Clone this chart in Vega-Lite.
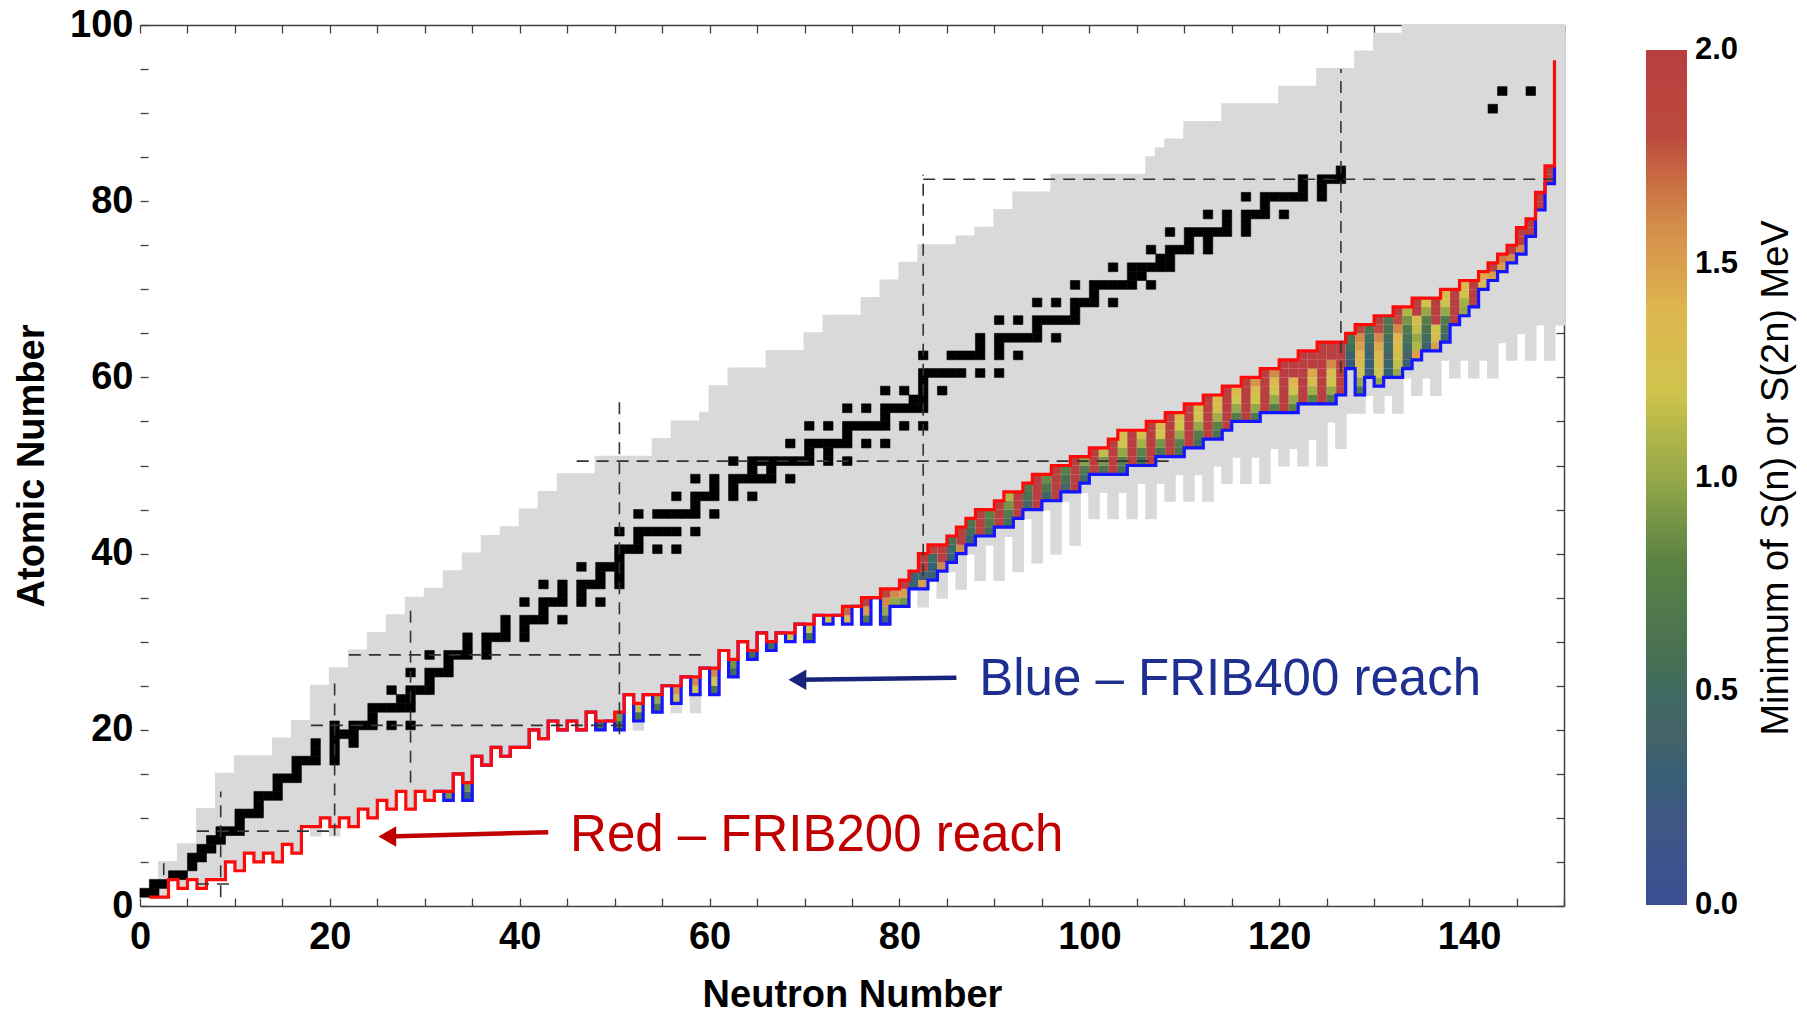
{
"$schema":"https://vega.github.io/schema/vega-lite/v6.json",
"width":1424,"height":881,
"autosize":{"type":"none"},
"padding":{"left":140,"top":25,"right":243,"bottom":107},
"background":"white",
"config":{"view":{"stroke":null},"font":"Liberation Sans"},
"datasets":{
"gray":[{"n":0,"b":1,"t":2},{"n":1,"b":1,"t":3},{"n":2,"b":1,"t":5},{"n":3,"b":3,"t":5},{"n":4,"b":2,"t":7},{"n":5,"b":3,"t":7},{"n":6,"b":2,"t":11},{"n":7,"b":3,"t":11},{"n":8,"b":3,"t":15},{"n":9,"b":5,"t":15},{"n":10,"b":4,"t":17},{"n":11,"b":6,"t":17},{"n":12,"b":5,"t":17},{"n":13,"b":6,"t":17},{"n":14,"b":5,"t":19},{"n":15,"b":7,"t":19},{"n":16,"b":6,"t":21},{"n":17,"b":9,"t":21},{"n":18,"b":8,"t":25},{"n":19,"b":10,"t":25},{"n":20,"b":8,"t":27},{"n":21,"b":10,"t":27},{"n":22,"b":9,"t":29},{"n":23,"b":11,"t":29},{"n":24,"b":10,"t":31},{"n":25,"b":12,"t":31},{"n":26,"b":11,"t":33},{"n":27,"b":13,"t":33},{"n":28,"b":11,"t":35},{"n":29,"b":13,"t":35},{"n":30,"b":12,"t":36},{"n":31,"b":13,"t":36},{"n":32,"b":12,"t":38},{"n":33,"b":15,"t":38},{"n":34,"b":12,"t":40},{"n":35,"b":17,"t":40},{"n":36,"b":16,"t":42},{"n":37,"b":18,"t":42},{"n":38,"b":17,"t":43},{"n":39,"b":18,"t":43},{"n":40,"b":18,"t":45},{"n":41,"b":20,"t":45},{"n":42,"b":19,"t":47},{"n":43,"b":21,"t":47},{"n":44,"b":20,"t":49},{"n":45,"b":21,"t":49},{"n":46,"b":20,"t":49},{"n":47,"b":22,"t":49},{"n":48,"b":20,"t":51},{"n":49,"b":21,"t":51},{"n":50,"b":20,"t":51},{"n":51,"b":24,"t":51},{"n":52,"b":20,"t":51},{"n":53,"b":24,"t":51},{"n":54,"b":22,"t":53},{"n":55,"b":25,"t":53},{"n":56,"b":22,"t":55},{"n":57,"b":26,"t":55},{"n":58,"b":22,"t":55},{"n":59,"b":27,"t":56},{"n":60,"b":24,"t":59},{"n":61,"b":29,"t":59},{"n":62,"b":26,"t":61},{"n":63,"b":30,"t":61},{"n":64,"b":28,"t":61},{"n":65,"b":31,"t":61},{"n":66,"b":29,"t":63},{"n":67,"b":31,"t":63},{"n":68,"b":30,"t":63},{"n":69,"b":32,"t":63},{"n":70,"b":30,"t":65},{"n":71,"b":33,"t":65},{"n":72,"b":32,"t":67},{"n":73,"b":33,"t":67},{"n":74,"b":32,"t":67},{"n":75,"b":34,"t":67},{"n":76,"b":32,"t":69},{"n":77,"b":35,"t":69},{"n":78,"b":32,"t":71},{"n":79,"b":34,"t":71},{"n":80,"b":34,"t":73},{"n":81,"b":36,"t":73},{"n":82,"b":34,"t":75},{"n":83,"b":37,"t":75},{"n":84,"b":35,"t":75},{"n":85,"b":38,"t":75},{"n":86,"b":36,"t":76},{"n":87,"b":40,"t":76},{"n":88,"b":37,"t":77},{"n":89,"b":41,"t":77},{"n":90,"b":37,"t":79},{"n":91,"b":42,"t":79},{"n":92,"b":38,"t":81},{"n":93,"b":44,"t":81},{"n":94,"b":39,"t":81},{"n":95,"b":45,"t":81},{"n":96,"b":40,"t":83},{"n":97,"b":46,"t":83},{"n":98,"b":41,"t":83},{"n":99,"b":47,"t":83},{"n":100,"b":44,"t":83},{"n":101,"b":47,"t":83},{"n":102,"b":44,"t":83},{"n":103,"b":47,"t":83},{"n":104,"b":44,"t":83},{"n":105,"b":48,"t":83},{"n":106,"b":44,"t":85},{"n":107,"b":48,"t":86},{"n":108,"b":46,"t":87},{"n":109,"b":49,"t":87},{"n":110,"b":46,"t":89},{"n":111,"b":49,"t":89},{"n":112,"b":46,"t":89},{"n":113,"b":50,"t":89},{"n":114,"b":48,"t":91},{"n":115,"b":51,"t":91},{"n":116,"b":48,"t":91},{"n":117,"b":51,"t":91},{"n":118,"b":48,"t":91},{"n":119,"b":52,"t":91},{"n":120,"b":50,"t":93},{"n":121,"b":52,"t":93},{"n":122,"b":50,"t":93},{"n":123,"b":53,"t":93},{"n":124,"b":50,"t":95},{"n":125,"b":55,"t":95},{"n":126,"b":52,"t":95},{"n":127,"b":56,"t":95},{"n":128,"b":56,"t":97},{"n":129,"b":58,"t":97},{"n":130,"b":56,"t":99},{"n":131,"b":58,"t":99},{"n":132,"b":56,"t":99},{"n":133,"b":60,"t":100},{"n":134,"b":58,"t":100},{"n":135,"b":60,"t":100},{"n":136,"b":58,"t":100},{"n":137,"b":62,"t":100},{"n":138,"b":60,"t":100},{"n":139,"b":62,"t":100},{"n":140,"b":60,"t":100},{"n":141,"b":62,"t":100},{"n":142,"b":60,"t":100},{"n":143,"b":64,"t":100},{"n":144,"b":62,"t":100},{"n":145,"b":65,"t":100},{"n":146,"b":62,"t":100},{"n":147,"b":66,"t":100},{"n":148,"b":62,"t":100},{"n":149,"b":66,"t":100}],
"stable":[{"n":0,"z":1},{"n":1,"z":1},{"n":1,"z":2},{"n":2,"z":2},{"n":3,"z":3},{"n":4,"z":3},{"n":5,"z":4},{"n":5,"z":5},{"n":6,"z":5},{"n":6,"z":6},{"n":7,"z":6},{"n":7,"z":7},{"n":8,"z":7},{"n":8,"z":8},{"n":9,"z":8},{"n":10,"z":8},{"n":10,"z":9},{"n":10,"z":10},{"n":11,"z":10},{"n":12,"z":10},{"n":12,"z":11},{"n":12,"z":12},{"n":13,"z":12},{"n":14,"z":12},{"n":14,"z":13},{"n":14,"z":14},{"n":15,"z":14},{"n":16,"z":14},{"n":16,"z":15},{"n":16,"z":16},{"n":17,"z":16},{"n":18,"z":16},{"n":20,"z":16},{"n":18,"z":17},{"n":20,"z":17},{"n":18,"z":18},{"n":20,"z":18},{"n":22,"z":18},{"n":20,"z":19},{"n":21,"z":19},{"n":22,"z":19},{"n":20,"z":20},{"n":22,"z":20},{"n":23,"z":20},{"n":24,"z":20},{"n":26,"z":20},{"n":28,"z":20},{"n":24,"z":21},{"n":24,"z":22},{"n":25,"z":22},{"n":26,"z":22},{"n":27,"z":22},{"n":28,"z":22},{"n":27,"z":23},{"n":28,"z":23},{"n":26,"z":24},{"n":28,"z":24},{"n":29,"z":24},{"n":30,"z":24},{"n":30,"z":25},{"n":28,"z":26},{"n":30,"z":26},{"n":31,"z":26},{"n":32,"z":26},{"n":32,"z":27},{"n":30,"z":28},{"n":32,"z":28},{"n":33,"z":28},{"n":34,"z":28},{"n":36,"z":28},{"n":34,"z":29},{"n":36,"z":29},{"n":34,"z":30},{"n":36,"z":30},{"n":37,"z":30},{"n":38,"z":30},{"n":40,"z":30},{"n":38,"z":31},{"n":40,"z":31},{"n":38,"z":32},{"n":40,"z":32},{"n":41,"z":32},{"n":42,"z":32},{"n":44,"z":32},{"n":42,"z":33},{"n":40,"z":34},{"n":42,"z":34},{"n":43,"z":34},{"n":44,"z":34},{"n":46,"z":34},{"n":48,"z":34},{"n":44,"z":35},{"n":46,"z":35},{"n":42,"z":36},{"n":44,"z":36},{"n":46,"z":36},{"n":47,"z":36},{"n":48,"z":36},{"n":50,"z":36},{"n":48,"z":37},{"n":50,"z":37},{"n":46,"z":38},{"n":48,"z":38},{"n":49,"z":38},{"n":50,"z":38},{"n":50,"z":39},{"n":50,"z":40},{"n":51,"z":40},{"n":52,"z":40},{"n":54,"z":40},{"n":56,"z":40},{"n":52,"z":41},{"n":50,"z":42},{"n":52,"z":42},{"n":53,"z":42},{"n":54,"z":42},{"n":55,"z":42},{"n":56,"z":42},{"n":58,"z":42},{"n":52,"z":44},{"n":54,"z":44},{"n":55,"z":44},{"n":56,"z":44},{"n":57,"z":44},{"n":58,"z":44},{"n":60,"z":44},{"n":58,"z":45},{"n":56,"z":46},{"n":58,"z":46},{"n":59,"z":46},{"n":60,"z":46},{"n":62,"z":46},{"n":64,"z":46},{"n":60,"z":47},{"n":62,"z":47},{"n":58,"z":48},{"n":60,"z":48},{"n":62,"z":48},{"n":63,"z":48},{"n":64,"z":48},{"n":65,"z":48},{"n":66,"z":48},{"n":68,"z":48},{"n":64,"z":49},{"n":66,"z":49},{"n":62,"z":50},{"n":64,"z":50},{"n":65,"z":50},{"n":66,"z":50},{"n":67,"z":50},{"n":68,"z":50},{"n":69,"z":50},{"n":70,"z":50},{"n":72,"z":50},{"n":74,"z":50},{"n":70,"z":51},{"n":72,"z":51},{"n":68,"z":52},{"n":70,"z":52},{"n":71,"z":52},{"n":72,"z":52},{"n":73,"z":52},{"n":74,"z":52},{"n":76,"z":52},{"n":78,"z":52},{"n":74,"z":53},{"n":70,"z":54},{"n":72,"z":54},{"n":74,"z":54},{"n":75,"z":54},{"n":76,"z":54},{"n":77,"z":54},{"n":78,"z":54},{"n":80,"z":54},{"n":82,"z":54},{"n":78,"z":55},{"n":74,"z":56},{"n":76,"z":56},{"n":78,"z":56},{"n":79,"z":56},{"n":80,"z":56},{"n":81,"z":56},{"n":82,"z":56},{"n":81,"z":57},{"n":82,"z":57},{"n":78,"z":58},{"n":80,"z":58},{"n":82,"z":58},{"n":84,"z":58},{"n":82,"z":59},{"n":82,"z":60},{"n":83,"z":60},{"n":84,"z":60},{"n":85,"z":60},{"n":86,"z":60},{"n":88,"z":60},{"n":90,"z":60},{"n":82,"z":62},{"n":85,"z":62},{"n":86,"z":62},{"n":87,"z":62},{"n":88,"z":62},{"n":90,"z":62},{"n":92,"z":62},{"n":88,"z":63},{"n":90,"z":63},{"n":88,"z":64},{"n":90,"z":64},{"n":91,"z":64},{"n":92,"z":64},{"n":93,"z":64},{"n":94,"z":64},{"n":96,"z":64},{"n":94,"z":65},{"n":90,"z":66},{"n":92,"z":66},{"n":94,"z":66},{"n":95,"z":66},{"n":96,"z":66},{"n":97,"z":66},{"n":98,"z":66},{"n":98,"z":67},{"n":94,"z":68},{"n":96,"z":68},{"n":98,"z":68},{"n":99,"z":68},{"n":100,"z":68},{"n":102,"z":68},{"n":100,"z":69},{"n":98,"z":70},{"n":100,"z":70},{"n":101,"z":70},{"n":102,"z":70},{"n":103,"z":70},{"n":104,"z":70},{"n":106,"z":70},{"n":104,"z":71},{"n":105,"z":71},{"n":102,"z":72},{"n":104,"z":72},{"n":105,"z":72},{"n":106,"z":72},{"n":107,"z":72},{"n":108,"z":72},{"n":107,"z":73},{"n":108,"z":73},{"n":106,"z":74},{"n":108,"z":74},{"n":109,"z":74},{"n":110,"z":74},{"n":112,"z":74},{"n":110,"z":75},{"n":112,"z":75},{"n":108,"z":76},{"n":110,"z":76},{"n":111,"z":76},{"n":112,"z":76},{"n":113,"z":76},{"n":114,"z":76},{"n":116,"z":76},{"n":114,"z":77},{"n":116,"z":77},{"n":112,"z":78},{"n":114,"z":78},{"n":116,"z":78},{"n":117,"z":78},{"n":118,"z":78},{"n":120,"z":78},{"n":118,"z":79},{"n":116,"z":80},{"n":118,"z":80},{"n":119,"z":80},{"n":120,"z":80},{"n":121,"z":80},{"n":122,"z":80},{"n":124,"z":80},{"n":122,"z":81},{"n":124,"z":81},{"n":122,"z":82},{"n":124,"z":82},{"n":125,"z":82},{"n":126,"z":82},{"n":126,"z":83},{"n":142,"z":90},{"n":143,"z":92},{"n":146,"z":92}],
"cells":[{"n":32,"z":12,"s":0.9},{"n":34,"z":12,"s":0.3},{"n":34,"z":13,"s":0.9},{"n":48,"z":20,"s":0.4},{"n":50,"z":20,"s":0.6},{"n":50,"z":21,"s":0.9},{"n":52,"z":21,"s":0.6},{"n":52,"z":22,"s":1.15},{"n":54,"z":22,"s":0.6},{"n":54,"z":23,"s":1.0},{"n":56,"z":23,"s":1.2},{"n":56,"z":24,"s":1.55},{"n":58,"z":24,"s":1.2},{"n":58,"z":25,"s":1.6},{"n":60,"z":24,"s":0.6},{"n":60,"z":25,"s":1.2},{"n":60,"z":26,"s":1.6},{"n":62,"z":26,"s":0.5},{"n":62,"z":27,"s":0.9},{"n":64,"z":28,"s":0.55},{"n":66,"z":29,"s":0.5},{"n":68,"z":30,"s":1.2},{"n":70,"z":30,"s":0.6},{"n":70,"z":31,"s":1.2},{"n":72,"z":32,"s":1.25},{"n":74,"z":32,"s":1.3},{"n":74,"z":33,"s":1.7},{"n":76,"z":32,"s":0.7},{"n":76,"z":33,"s":1.5},{"n":76,"z":34,"s":1.9},{"n":78,"z":32,"s":0.35},{"n":78,"z":33,"s":1.0},{"n":78,"z":34,"s":1.6},{"n":78,"z":35,"s":1.9},{"n":79,"z":34,"s":1.0},{"n":79,"z":35,"s":1.6},{"n":80,"z":34,"s":0.9},{"n":80,"z":35,"s":1.5},{"n":80,"z":36,"s":2},{"n":81,"z":36,"s":0.35},{"n":81,"z":37,"s":0.35},{"n":82,"z":36,"s":1.5},{"n":82,"z":37,"s":0.35},{"n":82,"z":38,"s":2},{"n":82,"z":39,"s":2},{"n":83,"z":37,"s":0.35},{"n":83,"z":38,"s":0.3},{"n":83,"z":39,"s":0.5},{"n":83,"z":40,"s":2},{"n":84,"z":38,"s":1.6},{"n":84,"z":39,"s":2},{"n":84,"z":40,"s":2},{"n":85,"z":39,"s":0.3},{"n":85,"z":40,"s":0.5},{"n":85,"z":41,"s":0.6},{"n":86,"z":40,"s":1.6},{"n":86,"z":41,"s":2},{"n":86,"z":42,"s":2},{"n":87,"z":41,"s":0.3},{"n":87,"z":42,"s":0.55},{"n":87,"z":43,"s":0.65},{"n":88,"z":42,"s":2},{"n":88,"z":43,"s":2},{"n":88,"z":44,"s":2},{"n":89,"z":42,"s":0.5},{"n":89,"z":43,"s":0.7},{"n":89,"z":44,"s":0.8},{"n":90,"z":43,"s":2},{"n":90,"z":44,"s":2},{"n":90,"z":45,"s":2},{"n":91,"z":43,"s":0.55},{"n":91,"z":44,"s":0.7},{"n":91,"z":45,"s":0.9},{"n":91,"z":46,"s":1.1},{"n":92,"z":44,"s":2},{"n":92,"z":45,"s":2},{"n":92,"z":46,"s":2},{"n":93,"z":45,"s":0.4},{"n":93,"z":46,"s":0.6},{"n":93,"z":47,"s":0.7},{"n":94,"z":45,"s":2},{"n":94,"z":46,"s":2},{"n":94,"z":47,"s":2},{"n":94,"z":48,"s":2},{"n":95,"z":46,"s":0.45},{"n":95,"z":47,"s":0.65},{"n":95,"z":48,"s":0.85},{"n":96,"z":46,"s":2},{"n":96,"z":47,"s":2},{"n":96,"z":48,"s":2},{"n":96,"z":49,"s":2},{"n":97,"z":47,"s":0.4},{"n":97,"z":48,"s":0.6},{"n":97,"z":49,"s":0.75},{"n":98,"z":47,"s":2},{"n":98,"z":48,"s":2},{"n":98,"z":49,"s":2},{"n":98,"z":50,"s":2},{"n":99,"z":48,"s":0.5},{"n":99,"z":49,"s":0.7},{"n":99,"z":50,"s":0.95},{"n":100,"z":49,"s":2},{"n":100,"z":50,"s":2},{"n":100,"z":51,"s":2},{"n":101,"z":49,"s":0.6},{"n":101,"z":50,"s":0.9},{"n":101,"z":51,"s":1.15},{"n":102,"z":49,"s":2},{"n":102,"z":50,"s":2},{"n":102,"z":51,"s":2},{"n":102,"z":52,"s":2},{"n":103,"z":49,"s":0.55},{"n":103,"z":50,"s":0.75},{"n":103,"z":51,"s":1.0},{"n":103,"z":52,"s":1.2},{"n":103,"z":53,"s":1.3},{"n":104,"z":50,"s":2},{"n":104,"z":51,"s":2},{"n":104,"z":52,"s":2},{"n":104,"z":53,"s":2},{"n":105,"z":50,"s":0.55},{"n":105,"z":51,"s":0.8},{"n":105,"z":52,"s":1.05},{"n":105,"z":53,"s":1.25},{"n":106,"z":50,"s":2},{"n":106,"z":51,"s":2},{"n":106,"z":52,"s":2},{"n":106,"z":53,"s":2},{"n":106,"z":54,"s":2},{"n":107,"z":51,"s":0.6},{"n":107,"z":52,"s":0.9},{"n":107,"z":53,"s":1.2},{"n":107,"z":54,"s":1.3},{"n":108,"z":51,"s":2},{"n":108,"z":52,"s":2},{"n":108,"z":53,"s":2},{"n":108,"z":54,"s":2},{"n":108,"z":55,"s":2},{"n":109,"z":51,"s":0.6},{"n":109,"z":52,"s":0.75},{"n":109,"z":53,"s":1.0},{"n":109,"z":54,"s":1.2},{"n":109,"z":55,"s":1.3},{"n":110,"z":52,"s":2},{"n":110,"z":53,"s":2},{"n":110,"z":54,"s":2},{"n":110,"z":55,"s":2},{"n":110,"z":56,"s":2},{"n":111,"z":52,"s":0.55},{"n":111,"z":53,"s":0.75},{"n":111,"z":54,"s":1.0},{"n":111,"z":55,"s":1.2},{"n":111,"z":56,"s":1.3},{"n":112,"z":53,"s":2},{"n":112,"z":54,"s":2},{"n":112,"z":55,"s":2},{"n":112,"z":56,"s":2},{"n":112,"z":57,"s":2},{"n":113,"z":53,"s":0.6},{"n":113,"z":54,"s":0.8},{"n":113,"z":55,"s":1.05},{"n":113,"z":56,"s":1.25},{"n":113,"z":57,"s":1.35},{"n":114,"z":54,"s":2},{"n":114,"z":55,"s":2},{"n":114,"z":56,"s":2},{"n":114,"z":57,"s":2},{"n":114,"z":58,"s":2},{"n":115,"z":55,"s":0.75},{"n":115,"z":56,"s":1.0},{"n":115,"z":57,"s":1.2},{"n":115,"z":58,"s":1.35},{"n":116,"z":55,"s":2},{"n":116,"z":56,"s":2},{"n":116,"z":57,"s":2},{"n":116,"z":58,"s":2},{"n":116,"z":59,"s":2},{"n":117,"z":55,"s":0.7},{"n":117,"z":56,"s":1.0},{"n":117,"z":57,"s":1.2},{"n":117,"z":58,"s":1.3},{"n":117,"z":59,"s":1.55},{"n":118,"z":56,"s":2},{"n":118,"z":57,"s":2},{"n":118,"z":58,"s":2},{"n":118,"z":59,"s":2},{"n":118,"z":60,"s":2},{"n":119,"z":56,"s":0.75},{"n":119,"z":57,"s":1.0},{"n":119,"z":58,"s":1.2},{"n":119,"z":59,"s":1.35},{"n":119,"z":60,"s":1.6},{"n":120,"z":56,"s":2},{"n":120,"z":57,"s":2},{"n":120,"z":58,"s":2},{"n":120,"z":59,"s":2},{"n":120,"z":60,"s":2},{"n":120,"z":61,"s":2},{"n":121,"z":56,"s":0.8},{"n":121,"z":57,"s":1.0},{"n":121,"z":58,"s":1.2},{"n":121,"z":59,"s":1.4},{"n":121,"z":60,"s":2},{"n":121,"z":61,"s":2},{"n":122,"z":57,"s":2},{"n":122,"z":58,"s":2},{"n":122,"z":59,"s":2},{"n":122,"z":60,"s":2},{"n":122,"z":61,"s":2},{"n":122,"z":62,"s":2},{"n":123,"z":57,"s":0.8},{"n":123,"z":58,"s":1.05},{"n":123,"z":59,"s":1.25},{"n":123,"z":60,"s":1.45},{"n":123,"z":61,"s":2},{"n":123,"z":62,"s":2},{"n":124,"z":57,"s":2},{"n":124,"z":58,"s":2},{"n":124,"z":59,"s":2},{"n":124,"z":60,"s":2},{"n":124,"z":61,"s":2},{"n":124,"z":62,"s":2},{"n":124,"z":63,"s":2},{"n":125,"z":57,"s":0.7},{"n":125,"z":58,"s":1.0},{"n":125,"z":59,"s":1.2},{"n":125,"z":60,"s":1.3},{"n":125,"z":61,"s":1.6},{"n":125,"z":62,"s":2},{"n":125,"z":63,"s":2},{"n":126,"z":58,"s":2},{"n":126,"z":59,"s":2},{"n":126,"z":60,"s":2},{"n":126,"z":61,"s":2},{"n":126,"z":62,"s":2},{"n":126,"z":63,"s":2},{"n":127,"z":61,"s":0.25},{"n":127,"z":62,"s":0.35},{"n":127,"z":63,"s":0.55},{"n":127,"z":64,"s":0.6},{"n":128,"z":58,"s":0.7},{"n":128,"z":59,"s":1.0},{"n":128,"z":60,"s":1.2},{"n":128,"z":61,"s":1.3},{"n":128,"z":62,"s":1.4},{"n":128,"z":63,"s":1.5},{"n":128,"z":64,"s":1.6},{"n":128,"z":65,"s":1.9},{"n":129,"z":60,"s":0.25},{"n":129,"z":61,"s":0.3},{"n":129,"z":62,"s":0.35},{"n":129,"z":63,"s":0.45},{"n":129,"z":64,"s":0.55},{"n":129,"z":65,"s":0.6},{"n":130,"z":59,"s":1.0},{"n":130,"z":60,"s":1.2},{"n":130,"z":61,"s":1.3},{"n":130,"z":62,"s":1.35},{"n":130,"z":63,"s":1.45},{"n":130,"z":64,"s":1.6},{"n":130,"z":65,"s":1.8},{"n":130,"z":66,"s":2},{"n":131,"z":60,"s":0.3},{"n":131,"z":61,"s":0.35},{"n":131,"z":62,"s":0.4},{"n":131,"z":63,"s":0.5},{"n":131,"z":64,"s":0.55},{"n":131,"z":65,"s":0.6},{"n":131,"z":66,"s":0.65},{"n":132,"z":60,"s":1.0},{"n":132,"z":61,"s":1.15},{"n":132,"z":62,"s":1.25},{"n":132,"z":63,"s":1.3},{"n":132,"z":64,"s":1.4},{"n":132,"z":65,"s":1.6},{"n":132,"z":66,"s":1.8},{"n":132,"z":67,"s":2},{"n":133,"z":61,"s":0.3},{"n":133,"z":62,"s":0.4},{"n":133,"z":63,"s":0.5},{"n":133,"z":64,"s":0.6},{"n":133,"z":65,"s":0.7},{"n":133,"z":66,"s":0.9},{"n":133,"z":67,"s":1.1},{"n":134,"z":62,"s":1.5},{"n":134,"z":63,"s":1.1},{"n":134,"z":64,"s":1.0},{"n":134,"z":65,"s":1.15},{"n":134,"z":66,"s":1.3},{"n":134,"z":67,"s":2},{"n":134,"z":68,"s":2},{"n":135,"z":63,"s":0.35},{"n":135,"z":64,"s":0.5},{"n":135,"z":65,"s":0.6},{"n":135,"z":66,"s":0.75},{"n":135,"z":67,"s":1.0},{"n":135,"z":68,"s":1.2},{"n":136,"z":63,"s":1.5},{"n":136,"z":64,"s":1.3},{"n":136,"z":65,"s":1.2},{"n":136,"z":66,"s":2},{"n":136,"z":67,"s":2},{"n":136,"z":68,"s":2},{"n":137,"z":64,"s":0.45},{"n":137,"z":65,"s":0.6},{"n":137,"z":66,"s":0.7},{"n":137,"z":67,"s":1.0},{"n":137,"z":68,"s":1.2},{"n":137,"z":69,"s":1.3},{"n":138,"z":66,"s":2},{"n":138,"z":67,"s":2},{"n":138,"z":68,"s":2},{"n":138,"z":69,"s":2},{"n":139,"z":67,"s":1.0},{"n":139,"z":68,"s":1.05},{"n":139,"z":69,"s":1.25},{"n":139,"z":70,"s":1.3},{"n":140,"z":68,"s":2},{"n":140,"z":69,"s":2},{"n":140,"z":70,"s":2},{"n":141,"z":70,"s":1.3},{"n":141,"z":71,"s":1.45},{"n":142,"z":71,"s":1.5},{"n":142,"z":72,"s":2},{"n":143,"z":72,"s":1.5},{"n":143,"z":73,"s":1.65},{"n":144,"z":73,"s":1.6},{"n":144,"z":74,"s":2},{"n":145,"z":74,"s":1.6},{"n":145,"z":75,"s":2},{"n":145,"z":76,"s":2},{"n":146,"z":76,"s":2},{"n":146,"z":77,"s":2},{"n":147,"z":79,"s":2},{"n":147,"z":80,"s":2},{"n":148,"z":82,"s":2},{"n":148,"z":83,"s":2}],
"red":[{"n":1,"z":1},{"n":2,"z":1},{"n":3,"z":3},{"n":4,"z":2},{"n":5,"z":3},{"n":6,"z":2},{"n":7,"z":3},{"n":8,"z":3},{"n":9,"z":5},{"n":10,"z":4},{"n":11,"z":6},{"n":12,"z":5},{"n":13,"z":6},{"n":14,"z":5},{"n":15,"z":7},{"n":16,"z":6},{"n":17,"z":9},{"n":18,"z":9},{"n":19,"z":10},{"n":20,"z":9},{"n":21,"z":10},{"n":22,"z":9},{"n":23,"z":11},{"n":24,"z":10},{"n":25,"z":12},{"n":26,"z":11},{"n":27,"z":13},{"n":28,"z":11},{"n":29,"z":13},{"n":30,"z":12},{"n":31,"z":13},{"n":32,"z":13},{"n":33,"z":15},{"n":34,"z":14},{"n":35,"z":17},{"n":36,"z":16},{"n":37,"z":18},{"n":38,"z":17},{"n":39,"z":18},{"n":40,"z":18},{"n":41,"z":20},{"n":42,"z":19},{"n":43,"z":21},{"n":44,"z":20},{"n":45,"z":21},{"n":46,"z":20},{"n":47,"z":22},{"n":48,"z":21},{"n":49,"z":21},{"n":50,"z":22},{"n":51,"z":24},{"n":52,"z":23},{"n":53,"z":24},{"n":54,"z":24},{"n":55,"z":25},{"n":56,"z":25},{"n":57,"z":26},{"n":58,"z":26},{"n":59,"z":27},{"n":60,"z":27},{"n":61,"z":29},{"n":62,"z":28},{"n":63,"z":30},{"n":64,"z":29},{"n":65,"z":31},{"n":66,"z":30},{"n":67,"z":31},{"n":68,"z":31},{"n":69,"z":32},{"n":70,"z":32},{"n":71,"z":33},{"n":72,"z":33},{"n":73,"z":33},{"n":74,"z":34},{"n":75,"z":34},{"n":76,"z":35},{"n":77,"z":35},{"n":78,"z":36},{"n":79,"z":36},{"n":80,"z":37},{"n":81,"z":38},{"n":82,"z":40},{"n":83,"z":41},{"n":84,"z":41},{"n":85,"z":42},{"n":86,"z":43},{"n":87,"z":44},{"n":88,"z":45},{"n":89,"z":45},{"n":90,"z":46},{"n":91,"z":47},{"n":92,"z":47},{"n":93,"z":48},{"n":94,"z":49},{"n":95,"z":49},{"n":96,"z":50},{"n":97,"z":50},{"n":98,"z":51},{"n":99,"z":51},{"n":100,"z":52},{"n":101,"z":52},{"n":102,"z":53},{"n":103,"z":54},{"n":104,"z":54},{"n":105,"z":54},{"n":106,"z":55},{"n":107,"z":55},{"n":108,"z":56},{"n":109,"z":56},{"n":110,"z":57},{"n":111,"z":57},{"n":112,"z":58},{"n":113,"z":58},{"n":114,"z":59},{"n":115,"z":59},{"n":116,"z":60},{"n":117,"z":60},{"n":118,"z":61},{"n":119,"z":61},{"n":120,"z":62},{"n":121,"z":62},{"n":122,"z":63},{"n":123,"z":63},{"n":124,"z":64},{"n":125,"z":64},{"n":126,"z":64},{"n":127,"z":65},{"n":128,"z":66},{"n":129,"z":66},{"n":130,"z":67},{"n":131,"z":67},{"n":132,"z":68},{"n":133,"z":68},{"n":134,"z":69},{"n":135,"z":69},{"n":136,"z":69},{"n":137,"z":70},{"n":138,"z":70},{"n":139,"z":71},{"n":140,"z":71},{"n":141,"z":72},{"n":142,"z":73},{"n":143,"z":74},{"n":144,"z":75},{"n":145,"z":77},{"n":146,"z":78},{"n":147,"z":81},{"n":148,"z":84},{"n":149,"z":96}],
"blue":[{"n":31,"z":13},{"n":32,"z":12},{"n":33,"z":15},{"n":34,"z":12},{"n":35,"z":17},{"n":36,"z":16},{"n":37,"z":18},{"n":38,"z":17},{"n":39,"z":18},{"n":40,"z":18},{"n":41,"z":20},{"n":42,"z":19},{"n":43,"z":21},{"n":44,"z":20},{"n":45,"z":21},{"n":46,"z":20},{"n":47,"z":22},{"n":48,"z":20},{"n":49,"z":21},{"n":50,"z":20},{"n":51,"z":24},{"n":52,"z":21},{"n":53,"z":24},{"n":54,"z":22},{"n":55,"z":25},{"n":56,"z":23},{"n":57,"z":26},{"n":58,"z":24},{"n":59,"z":27},{"n":60,"z":24},{"n":61,"z":29},{"n":62,"z":26},{"n":63,"z":30},{"n":64,"z":28},{"n":65,"z":31},{"n":66,"z":29},{"n":67,"z":31},{"n":68,"z":30},{"n":69,"z":32},{"n":70,"z":30},{"n":71,"z":33},{"n":72,"z":32},{"n":73,"z":33},{"n":74,"z":32},{"n":75,"z":34},{"n":76,"z":32},{"n":77,"z":35},{"n":78,"z":32},{"n":79,"z":34},{"n":80,"z":34},{"n":81,"z":36},{"n":82,"z":36},{"n":83,"z":37},{"n":84,"z":38},{"n":85,"z":39},{"n":86,"z":40},{"n":87,"z":41},{"n":88,"z":42},{"n":89,"z":42},{"n":90,"z":43},{"n":91,"z":43},{"n":92,"z":44},{"n":93,"z":45},{"n":94,"z":45},{"n":95,"z":46},{"n":96,"z":46},{"n":97,"z":47},{"n":98,"z":47},{"n":99,"z":48},{"n":100,"z":49},{"n":101,"z":49},{"n":102,"z":49},{"n":103,"z":49},{"n":104,"z":50},{"n":105,"z":50},{"n":106,"z":50},{"n":107,"z":51},{"n":108,"z":51},{"n":109,"z":51},{"n":110,"z":52},{"n":111,"z":52},{"n":112,"z":53},{"n":113,"z":53},{"n":114,"z":54},{"n":115,"z":55},{"n":116,"z":55},{"n":117,"z":55},{"n":118,"z":56},{"n":119,"z":56},{"n":120,"z":56},{"n":121,"z":56},{"n":122,"z":57},{"n":123,"z":57},{"n":124,"z":57},{"n":125,"z":57},{"n":126,"z":58},{"n":127,"z":61},{"n":128,"z":58},{"n":129,"z":60},{"n":130,"z":59},{"n":131,"z":60},{"n":132,"z":60},{"n":133,"z":61},{"n":134,"z":62},{"n":135,"z":63},{"n":136,"z":63},{"n":137,"z":64},{"n":138,"z":66},{"n":139,"z":67},{"n":140,"z":68},{"n":141,"z":70},{"n":142,"z":71},{"n":143,"z":72},{"n":144,"z":73},{"n":145,"z":74},{"n":146,"z":76},{"n":147,"z":79},{"n":148,"z":82},{"n":149,"z":84}],
"magic":[{"x1":2.5,"x2":2.5,"y1":3.5,"y2":5.5},{"x1":6,"x2":10,"y1":2.5,"y2":2.5},{"x1":8.5,"x2":8.5,"y1":1,"y2":13},{"x1":6,"x2":20.5,"y1":8.5,"y2":8.5},{"x1":20.5,"x2":20.5,"y1":8,"y2":25.5},{"x1":18,"x2":51,"y1":20.5,"y2":20.5},{"x1":28.5,"x2":28.5,"y1":14,"y2":34},{"x1":22,"x2":59.5,"y1":28.5,"y2":28.5},{"x1":50.5,"x2":50.5,"y1":19.5,"y2":58},{"x1":46,"x2":109,"y1":50.5,"y2":50.5},{"x1":82.5,"x2":82.5,"y1":37.5,"y2":83},{"x1":82.5,"x2":149,"y1":82.5,"y2":82.5},{"x1":126.5,"x2":126.5,"y1":60.5,"y2":95}],
"arrows":[{"g":"FRIB400","n":69.3,"z":25.67},{"g":"FRIB400","n":86,"z":25.9},{"g":"FRIB200","n":26.1,"z":7.9},{"g":"FRIB200","n":43,"z":8.36}],
"heads":[{"g":"FRIB400","n":69.25,"z":25.67},{"g":"FRIB200","n":26.05,"z":7.9}],
"notes":[{"g":"FRIB400","n":88.4,"z":25.65,"label":"Blue – FRIB400 reach"},{"g":"FRIB200","n":45.3,"z":8.0,"label":"Red – FRIB200 reach"}]
},
"resolve":{"axis":{"x":"independent","y":"independent"}},
"layer":[
{"data":{"name":"gray"},"transform":[{"calculate":"datum.n+1","as":"n2"}],
 "mark":{"type":"rect","fill":"#d9d9d9","stroke":"#d9d9d9","strokeWidth":2},
 "encoding":{
  "x":{"field":"n","type":"quantitative","scale":{"domain":[0,150],"nice":false,"zero":false},
   "axis":{"orient":"bottom","values":[0,5,10,15,20,25,30,35,40,45,50,55,60,65,70,75,80,85,90,95,100,105,110,115,120,125,130,135,140,145,150],"labelExpr":"datum.value % 20 === 0 ? datum.label : ''","format":"d","grid":false,"domain":true,"domainColor":"#404040","domainWidth":1.5,"tickSize":-8,"tickColor":"#404040","tickWidth":1.3,"labelFont":"Liberation Sans","labelFontSize":38,"labelFontWeight":"bold","labelColor":"black","labelPadding":20,"labelFlush":false,"labelOverlap":false,"title":"Neutron Number","titleFont":"Liberation Sans","titleFontSize":38,"titleFontWeight":"bold","titleColor":"black","titlePadding":20}},
  "x2":{"field":"n2"},
  "y":{"field":"b","type":"quantitative","scale":{"domain":[0,100],"nice":false,"zero":false},
   "axis":{"orient":"left","values":[0,5,10,15,20,25,30,35,40,45,50,55,60,65,70,75,80,85,90,95,100],"labelExpr":"datum.value % 20 === 0 ? datum.label : ''","format":"d","grid":false,"domain":false,"tickSize":-8,"tickColor":"#404040","tickWidth":1.3,"labelFont":"Liberation Sans","labelFontSize":38,"labelFontWeight":"bold","labelColor":"black","labelPadding":15,"labelFlush":false,"labelOverlap":false,"title":"Atomic Number","titleFont":"Liberation Sans","titleFontSize":38,"titleFontWeight":"bold","titleColor":"black","titlePadding":18}},
  "y2":{"field":"t"}}},
{"data":{"name":"stable"},"transform":[{"calculate":"datum.n+1","as":"n2"},{"calculate":"datum.z+1","as":"z2"}],
 "mark":{"type":"rect","fill":"black","stroke":"black","strokeWidth":0.6},
 "encoding":{
  "x":{"field":"n","type":"quantitative","axis":{"orient":"top","values":[0,5,10,15,20,25,30,35,40,45,50,55,60,65,70,75,80,85,90,95,100,105,110,115,120,125,130,135,140,145,150],"labels":false,"title":null,"grid":false,"domainColor":"#404040","domainWidth":1.5,"tickSize":-8,"tickColor":"#404040","tickWidth":1.3}},
  "x2":{"field":"n2"},
  "y":{"field":"z","type":"quantitative","axis":{"orient":"right","values":[0,5,10,15,20,25,30,35,40,45,50,55,60,65,70,75,80,85,90,95,100],"labels":false,"title":null,"grid":false,"domainColor":"#404040","domainWidth":1.5,"tickSize":-8,"tickColor":"#404040","tickWidth":1.3}},
  "y2":{"field":"z2"}}},
{"data":{"name":"cells"},"transform":[{"calculate":"datum.n+1","as":"n2"},{"calculate":"datum.z+1","as":"z2"}],
 "mark":{"type":"rect"},
 "encoding":{
  "x":{"field":"n","type":"quantitative","axis":null},
  "x2":{"field":"n2"},
  "y":{"field":"z","type":"quantitative","axis":null},
  "y2":{"field":"z2"},
  "color":{"field":"s","type":"quantitative","scale":{"domain":[0,0.2,0.4,0.6,0.8,1.0,1.2,1.4,1.6,1.8,2.0],"range":["#3b4f93","#405784","#456368","#4a7150","#5a8244","#96a848","#cfc44c","#deb550","#d28a4a","#bc4a3f","#b93e3f"]},
   "legend":{"type":"gradient","orient":"none","legendX":1506,"legendY":25,"direction":"vertical","padding":0,"gradientLength":855,"gradientThickness":41,"gradientStrokeWidth":0,"values":[0,0.5,1,1.5,2],"format":".1f","labelFont":"Liberation Sans","labelFontSize":31,"labelFontWeight":"bold","labelColor":"black","labelOffset":8,"labelBaseline":"middle","labelOverlap":false,"title":"Minimum of S(n) or S(2n) MeV","titleOrient":"right","titleAnchor":"middle","titleFont":"Liberation Sans","titleFontSize":38,"titleFontWeight":"normal","titleColor":"black","titlePadding":58,"titleLimit":1000,"encode":{"title":{"update":{"angle":{"value":-90}}},"labels":{"update":{"baseline":{"value":"middle"}}}}}}}},
{"data":{"name":"blue"},"mark":{"type":"line","interpolate":"step-after","stroke":"#1515ff","strokeWidth":3.2},
 "encoding":{"x":{"field":"n","type":"quantitative","axis":null},"y":{"field":"z","type":"quantitative","axis":null}}},
{"data":{"name":"red"},"mark":{"type":"line","interpolate":"step-after","stroke":"#ff0a0a","strokeWidth":3.2},
 "encoding":{"x":{"field":"n","type":"quantitative","axis":null},"y":{"field":"z","type":"quantitative","axis":null}}},
{"data":{"name":"magic"},"mark":{"type":"rule","stroke":"#333333","strokeWidth":1.6,"strokeDash":[12,8]},
 "encoding":{"x":{"field":"x1","type":"quantitative","axis":null},"x2":{"field":"x2"},"y":{"field":"y1","type":"quantitative","axis":null},"y2":{"field":"y2"}}},
{"data":{"name":"arrows"},"transform":[{"filter":"datum.g === 'FRIB400'"}],"mark":{"type":"line","stroke":"#18247c","strokeWidth":4.5},
 "encoding":{"x":{"field":"n","type":"quantitative","axis":null},"y":{"field":"z","type":"quantitative","axis":null}}},
{"data":{"name":"arrows"},"transform":[{"filter":"datum.g === 'FRIB200'"}],"mark":{"type":"line","stroke":"#c00000","strokeWidth":4.5},
 "encoding":{"x":{"field":"n","type":"quantitative","axis":null},"y":{"field":"z","type":"quantitative","axis":null}}},
{"data":{"name":"heads"},"transform":[{"filter":"datum.g === 'FRIB400'"}],"mark":{"type":"point","shape":"triangle-left","filled":true,"fill":"#18247c","stroke":null,"opacity":1,"size":420},
 "encoding":{"x":{"field":"n","type":"quantitative","axis":null},"y":{"field":"z","type":"quantitative","axis":null}}},
{"data":{"name":"heads"},"transform":[{"filter":"datum.g === 'FRIB200'"}],"mark":{"type":"point","shape":"triangle-left","filled":true,"fill":"#c00000","stroke":null,"opacity":1,"size":420},
 "encoding":{"x":{"field":"n","type":"quantitative","axis":null},"y":{"field":"z","type":"quantitative","axis":null}}},
{"data":{"name":"notes"},"transform":[{"filter":"datum.g === 'FRIB400'"}],"mark":{"type":"text","align":"left","baseline":"middle","font":"Liberation Sans","fontSize":51,"fill":"#1f2f8f"},
 "encoding":{"x":{"field":"n","type":"quantitative","axis":null},"y":{"field":"z","type":"quantitative","axis":null},"text":{"field":"label"}}},
{"data":{"name":"notes"},"transform":[{"filter":"datum.g === 'FRIB200'"}],"mark":{"type":"text","align":"left","baseline":"middle","font":"Liberation Sans","fontSize":51,"fill":"#c00000"},
 "encoding":{"x":{"field":"n","type":"quantitative","axis":null},"y":{"field":"z","type":"quantitative","axis":null},"text":{"field":"label"}}}
]
}
